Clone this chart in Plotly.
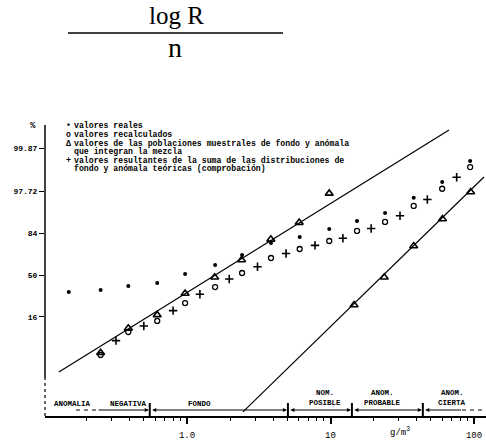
import math
from statistics import NormalDist
import plotly.graph_objects as go

# ---------------- data ----------------
# valores reales (filled dots)
real_x = [0.15, 0.25, 0.39, 0.62, 0.97, 1.57, 2.42, 3.85, 6.1, 9.8, 15.3, 24, 38, 60, 94]
real_pct = [34.3, 36.1, 39.7, 42.5, 51.0, 59.4, 68.3, 77.7, 81.7, 86.3, 90.1, 93.0, 96.7, 98.66, 99.67]

# valores recalculados (open circles)
recalc_x = [0.25, 0.39, 0.62, 0.97, 1.57, 2.42, 3.85, 6.1, 9.8, 15.3, 24, 38, 60, 94]
recalc_pct = [2.84, 8.74, 13.7, 25.2, 38.7, 51.9, 65.7, 73.2, 79.1, 85.3, 89.7, 95.0, 98.0, 99.49]

# valores de las poblaciones muestrales (triangles): fondo / anomalia
fondo_x = [0.25, 0.39, 0.62, 0.97, 1.56, 2.4, 3.84, 6.05, 9.8]
fondo_pct = [3.2, 10.2, 17.1, 33.0, 47.8, 63.9, 80.2, 89.4, 97.4]
anom_x = [14.6, 23.7, 38, 60.3, 94.8]
anom_pct = [23.8, 47.8, 75.5, 90.9, 97.6]

# valores resultantes de la suma (crosses)
suma_x = [0.32, 0.50, 0.80, 1.23, 1.97, 3.1, 4.9, 7.8, 12.2, 19.2, 30.5, 47.3, 75.7]
suma_pct = [5.9, 11.2, 19.8, 32.3, 46.2, 57.8, 69.6, 76.0, 80.9, 86.6, 92.1, 96.4, 99.0]

# theoretical distributions (straight lines on probability paper)
fondo_line_x = [0.128, 67]
fondo_line_pct = [1.04, 99.972]
anom_line_x = [2.455, 117.4]
anom_line_pct = [0.056, 99.02]

# axis ticks
ytick_pct = [16, 50, 84, 97.72, 99.87]
ytick_text = ["16", "50", "84", "97.72", "99.87"]
xtick_vals = [1, 10, 100]
xtick_text = ["1.0", "10", "100"]
xminor_vals = [0.2, 0.3, 0.4, 0.5, 0.6, 0.7, 0.8, 0.9,
               2, 3, 4, 5, 6, 7, 8, 9,
               20, 30, 40, 50, 60, 70, 80, 90]

# zone boundaries and labels
zone_bounds = [0.55, 5.05, 14.1, 44]
zone_labels = [["ANOMALIA"], ["NEGATIVA"], ["FONDO"], ["NOM.", "POSIBLE"],
               ["ANOM.", "PROBABLE"], ["ANOM.", "CIERTA"]]
zone_label_x = [0.16, 0.388, 1.23, 9.16, 22.9, 70.3]

legend_items = [
    ("\u2022", ["valores reales"]),
    ("o", ["valores recalculados"]),
    ("\u0394", ["valores de las poblaciones muestrales de fondo y an\u00f3mala",
                "que integran la mezcla"]),
    ("+", ["valores resultantes de la suma de las distribuciones de",
           "fondo y an\u00f3mala te\u00f3ricas (comprobaci\u00f3n)"]),
]

# ---------------- helpers ----------------
nd = NormalDist()


def zval(p):
    return nd.inv_cdf(p / 100.0)


W, H = 486, 443
L, T, B = 45, 125, 27
PW, PH = W - L, H - T - B


def px_x(px):
    return (px - L) / PW


def px_y(py):
    return (H - B - py) / PH


MONO = "Liberation Mono"
fig = go.Figure()

line_style = dict(color="black", width=1.2)
fig.add_trace(go.Scatter(x=fondo_line_x, y=[zval(p) for p in fondo_line_pct],
                         mode="lines", line=line_style, hoverinfo="skip"))
fig.add_trace(go.Scatter(x=anom_line_x, y=[zval(p) for p in anom_line_pct],
                         mode="lines", line=line_style, hoverinfo="skip"))

fig.add_trace(go.Scatter(x=real_x, y=[zval(p) for p in real_pct], mode="markers",
                         marker=dict(symbol="circle", size=4, color="black"),
                         name="valores reales"))
fig.add_trace(go.Scatter(x=recalc_x, y=[zval(p) for p in recalc_pct], mode="markers",
                         marker=dict(symbol="circle-open", size=5, color="black",
                                     line=dict(width=1.3, color="black")),
                         name="valores recalculados"))
fig.add_trace(go.Scatter(x=fondo_x + anom_x,
                         y=[zval(p) for p in fondo_pct + anom_pct], mode="markers",
                         marker=dict(symbol="triangle-up-open", size=7, color="black",
                                     line=dict(width=1.6, color="black")),
                         name="poblaciones"))
fig.add_trace(go.Scatter(x=suma_x, y=[zval(p) for p in suma_pct], mode="markers",
                         marker=dict(symbol="cross-thin-open", size=6, color="black",
                                     line=dict(width=1.6, color="black")),
                         name="suma"))

z_top = (275 - T) / 42.0
z_bot = (275 - (H - B)) / 42.0

fig.update_layout(
    width=W, height=H,
    margin=dict(l=L, r=0, t=T, b=B, pad=0),
    paper_bgcolor="white", plot_bgcolor="white",
    showlegend=False,
    xaxis=dict(type="log", range=[(45 - 187) / 143.5, (486 - 187) / 143.5],
               showgrid=False, zeroline=False, showline=True,
               linecolor="black", linewidth=1.5,
               ticks="outside", ticklen=6, tickwidth=1.5, tickcolor="black",
               tickvals=xtick_vals, ticktext=xtick_text,
               tickfont=dict(family=MONO, size=9, color="black"),
               ticklabelstandoff=3,
               minor=dict(tickvals=xminor_vals, ticks="outside", ticklen=3,
                          tickwidth=1.2, tickcolor="black", showgrid=False)),
    yaxis=dict(range=[z_bot, z_top], showgrid=False, zeroline=False, showline=False,
               ticks="outside", ticklen=5, tickwidth=1.2, tickcolor="black",
               tickvals=[zval(p) for p in ytick_pct], ticktext=ytick_text,
               tickfont=dict(family=MONO, size=8, color="black", weight="bold")),
)

shapes = []
# y axis line: solid then dashed near the bottom
shapes.append(dict(type="line", xref="paper", yref="paper", x0=0, x1=0,
                   y0=px_y(378), y1=1, line=dict(color="black", width=1.5)))
shapes.append(dict(type="line", xref="paper", yref="paper", x0=0, x1=0,
                   y0=0, y1=px_y(378), line=dict(color="black", width=1.2, dash="3px,3px")))
# title fraction rule
shapes.append(dict(type="line", xref="paper", yref="paper", x0=px_x(68), x1=px_x(283),
                   y0=px_y(33), y1=px_y(33), line=dict(color="black", width=1.5)))

band_y = px_y(410)
# zone boundary marks
for b in zone_bounds:
    shapes.append(dict(type="line", xref="x", yref="paper", x0=b, x1=b,
                       y0=px_y(418), y1=px_y(403), line=dict(color="black", width=2)))
# dashed ends of the band
shapes.append(dict(type="line", xref="paper", yref="paper", x0=px_x(76), x1=px_x(96),
                   y0=band_y, y1=band_y, line=dict(color="black", width=1, dash="4px,4px")))
shapes.append(dict(type="line", xref="paper", yref="paper", x0=px_x(462), x1=1,
                   y0=band_y, y1=band_y, line=dict(color="black", width=1, dash="4px,4px")))
fig.update_layout(shapes=shapes)

ann = []


def arrow(x_head, x_tail, side):
    ann.append(dict(x=math.log10(x_head), y=band_y, xref="x", yref="paper",
                    ax=math.log10(x_tail), ay=0, axref="x", ayref="pixel",
                    text="", showarrow=True, arrowhead=2, startarrowhead=2,
                    arrowsize=0.8, startarrowsize=0.8, arrowwidth=1,
                    arrowcolor="black", arrowside=side, standoff=1, startstandoff=1))


x_left = 10 ** ((96 - 187) / 143.5)
x_right = 10 ** ((462 - 187) / 143.5)
arrow(zone_bounds[0], x_left, "end")
for a, b in zip(zone_bounds[:-1], zone_bounds[1:]):
    arrow(b, a, "end+start")
arrow(x_right, zone_bounds[-1], "start")

for lines, xv in zip(zone_labels, zone_label_x):
    if len(lines) == 1:
        ys = [404]
    else:
        ys = [393, 403]
    for t, yy in zip(lines, ys):
        ann.append(dict(x=math.log10(xv), y=px_y(yy), xref="x", yref="paper",
                        text=t, showarrow=False, xanchor="center", yanchor="middle",
                        font=dict(family=MONO, size=7.5, color="black", weight="bold")))

# legend (text)
leg_rows = [[125], [134], [143, 151], [160, 168]]
for (sym, texts), ys in zip(legend_items, leg_rows):
    ann.append(dict(x=px_x(68), y=px_y(ys[0]), xref="paper", yref="paper", text=sym,
                    showarrow=False, xanchor="center", yanchor="middle",
                    font=dict(family=MONO, size=8.2, color="black", weight="bold")))
    for t, yy in zip(texts, ys):
        ann.append(dict(x=px_x(72), y=px_y(yy), xref="paper", yref="paper", text=t,
                        showarrow=False, xanchor="left", yanchor="middle",
                        font=dict(family=MONO, size=8.2, color="black", weight="bold")))

# % label and unit label
ann.append(dict(x=px_x(33), y=px_y(126), xref="paper", yref="paper", text="%",
                showarrow=False, xanchor="center", yanchor="middle",
                font=dict(family=MONO, size=9, color="black", weight="bold")))
ann.append(dict(x=px_x(400), y=px_y(432), xref="paper", yref="paper",
                text="g/m<sup>3</sup>", showarrow=False, xanchor="center", yanchor="middle",
                font=dict(family=MONO, size=9, color="black")))

# title fraction
ann.append(dict(x=px_x(176), y=px_y(15), xref="paper", yref="paper", text="log R",
                showarrow=False, xanchor="center", yanchor="middle",
                font=dict(family="Liberation Serif", size=25, color="black")))
ann.append(dict(x=px_x(175), y=px_y(47), xref="paper", yref="paper", text="n",
                showarrow=False, xanchor="center", yanchor="middle",
                font=dict(family="Liberation Serif", size=28, color="black")))

fig.update_layout(annotations=ann)
fig.write_html("out.html", config={"displayModeBar": False},
               post_script="document.body.style.margin='0';")
